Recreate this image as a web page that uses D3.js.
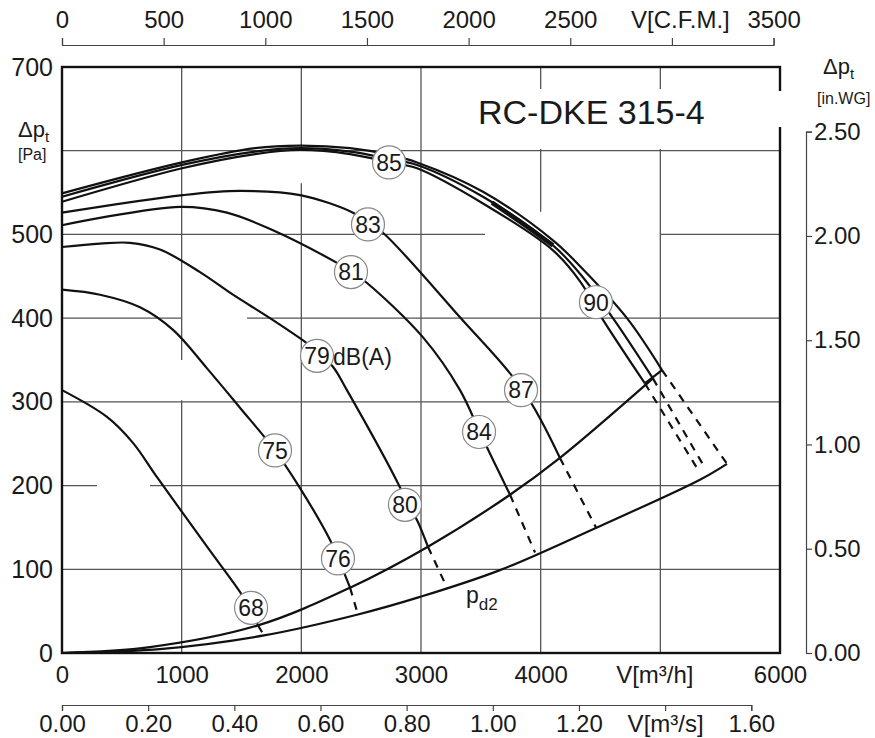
<!DOCTYPE html>
<html>
<head>
<meta charset="utf-8">
<script src="https://cdn.jsdelivr.net/npm/d3@7"></script>
<style>
  body { margin: 0; background: #fff; }
  svg text { font-family: "Liberation Sans", Arial, sans-serif; fill: #1a1a1a; }
</style>
</head>
<body>
<div id="plot"></div>
<script>
// ---- data ----
const flowTicks = [0, 1000, 2000, 3000, 4000, 5000, 6000];      // m3/h
const pressureTicks = [0, 100, 200, 300, 400, 500, 700];       // Pa (600 carries the unit)
const cfmTicks = [0, 500, 1000, 1500, 2000, 2500, 3000, 3500];
const m3sTicks = [0, 0.2, 0.4, 0.6, 0.8, 1.0, 1.2, 1.4, 1.6];
const inwgTicks = [0, 0.5, 1.0, 1.5, 2.0, 2.5];

// grid lines, [value, visible stretches]
const hGrid = [
  [100, [[0, 6000]]],
  [200, [[0, 292], [735, 6000]]],
  [300, [[0, 6000]]],
  [400, [[0, 1003], [1546, 6000]]],
  [500, [[0, 3535], [4997, 6000]]],
  [600, [[0, 6000]]]
];
const vGrid = [
  [1000, [[0, 302], [350, 700]]],
  [2000, [[0, 561], [600, 700]]],
  [3000, [[0, 700]]],
  [4000, [[0, 493], [527, 700]]],
  [5000, [[0, 700]]]
];

// fan curves [m3/h, Pa]
const curveFull1 = [[0, 549], [1003, 586], [1613, 603], [1989, 606], [2407, 603], [2741, 595],
  [2967, 586], [3518, 551], [4103, 493], [4329, 462], [4721, 400], [5014, 338]];
const curveFull2 = [[0, 545], [1003, 583], [1613, 599], [1989, 603], [2407, 599], [2741, 590],
  [2967, 583], [3518, 545], [4103, 487], [4329, 453], [4604, 400], [4938, 328]];
const curveFull3 = [[0, 539], [1003, 579], [1613, 596], [1989, 601], [2407, 596], [2741, 586],
  [2967, 579], [3518, 537], [4103, 481], [4329, 444], [4512, 400], [4871, 322]];
const curve83 = [[0, 526], [1011, 547], [1487, 552], [1989, 547], [2432, 526], [2557, 514],
  [2682, 502], [3326, 401], [3852, 314], [4161, 233]];
const curve81 = [[0, 511], [986, 533], [1379, 526], [1763, 505], [2298, 466], [2423, 455],
  [2549, 442], [3017, 377], [3326, 314], [3510, 258], [3744, 189]];
const curve79 = [[0, 485], [318, 489], [568, 490], [819, 482], [1153, 455], [1429, 428],
  [1738, 400], [2047, 370], [2131, 360], [2264, 342], [2381, 314], [2824, 198], [2883, 179],
  [2966, 159], [3058, 127]];
const curve75 = [[0, 434], [318, 428], [652, 413], [928, 386], [1212, 340], [1487, 293],
  [1763, 245], [1989, 197], [2240, 135], [2323, 108], [2407, 78]];
const curve68 = [[0, 314], [376, 282], [593, 251], [794, 210], [1212, 127],
  [1487, 73], [1571, 54], [1638, 33]];

// system lines
const systemLine = [[0, 0], [735, 7], [1638, 33], [2407, 78], [3058, 127], [3744, 189],
  [4161, 233], [4938, 328]];
const pd2Line = [[0, 0], [840, 5], [1688, 21], [2473, 46], [2992, 67], [3660, 99],
  [4470, 150], [5331, 207], [5557, 226]];

// dashed continuations below the system line
const dashedParts = [
  [[5014, 338], [5557, 226]],
  [[4938, 328], [5373, 221]],
  [[4871, 322], [5315, 219]],
  [[4161, 233], [4462, 150]],
  [[3744, 189], [3953, 120]],
  [[3058, 127], [3217, 78]],
  [[2407, 78], [2473, 46]],
  [[1638, 33], [1688, 21]]
];
const endCap = [[4871, 322], [5014, 338]];
const smudge = [[3593, 538], [3850, 513], [4103, 487]];

// sound level markers dB(A)
const soundLabels = [
  ['85', 2733, 586], ['83', 2557, 512], ['81', 2415, 455], ['79', 2131, 355],
  ['75', 1780, 242], ['76', 2306, 113], ['68', 1580, 54], ['80', 2866, 177],
  ['84', 3485, 264], ['87', 3836, 314], ['90', 4462, 419]
];

// ---- drawing ----
const W = 875, H = 738;
const svg = d3.select('#plot').append('svg')
  .attr('width', W).attr('height', H)
  .style('display', 'block');

const x = d3.scaleLinear().domain([0, 6000]).range([62, 780]);
const y = d3.scaleLinear().domain([0, 700]).range([653, 67]);
const cfmPerM3h = 0.5886;
const paPerInWG = 249.09;
const xCfm = d3.scaleLinear().domain([0, 3500]).range([x(0), x(3500 / cfmPerM3h)]);
const xM3s = d3.scaleLinear().domain([0, 1.6]).range([x(0), x(1.6 * 3600)]);
const yIn = d3.scaleLinear().domain([0, 2.5]).range([y(0), y(2.5 * paPerInWG)]);

// grid
const grid = svg.append('g').attr('stroke', '#555').attr('stroke-width', 1.3);
hGrid.forEach(([v, segs]) => segs.forEach(s => {
  grid.append('line').attr('x1', x(s[0])).attr('x2', x(s[1]))
    .attr('y1', y(v)).attr('y2', y(v));
}));
vGrid.forEach(([v, segs]) => segs.forEach(s => {
  grid.append('line').attr('x1', x(v)).attr('x2', x(v))
    .attr('y1', y(s[0])).attr('y2', y(s[1]));
}));

// white patch behind the title
svg.append('rect').attr('x', 440).attr('y', 89).attr('width', 336).attr('height', 60).attr('fill', '#fff');

// frame
svg.append('rect')
  .attr('x', x(0)).attr('y', y(700))
  .attr('width', x(6000) - x(0)).attr('height', y(0) - y(700))
  .attr('fill', 'none').attr('stroke', '#111').attr('stroke-width', 2.4);
svg.append('rect').attr('x', 776).attr('y', 91).attr('width', 10).attr('height', 36).attr('fill', '#fff');

// curves
const line = d3.line().x(d => x(d[0])).y(d => y(d[1])).curve(d3.curveCatmullRom.alpha(0.5));
const straight = d3.line().x(d => x(d[0])).y(d => y(d[1]));
const curves = svg.append('g').attr('fill', 'none').attr('stroke', '#111')
  .attr('stroke-width', 2.2).attr('stroke-linejoin', 'round');

[curveFull1, curveFull2, curveFull3, curve83, curve81, curve79, curve75, curve68, systemLine, pd2Line]
  .forEach(c => curves.append('path').attr('d', line(c)));

curves.append('path').attr('d', line(smudge)).attr('stroke-width', 4.5);
curves.append('path').attr('d', straight(endCap));

dashedParts.forEach(d => curves.append('path')
  .attr('d', straight(d))
  .attr('stroke-dasharray', '8,7'));

// sound level circles
const marks = svg.append('g').selectAll('g').data(soundLabels).join('g')
  .attr('transform', d => `translate(${x(d[1])},${y(d[2])})`);
marks.append('circle').attr('r', 16.5).attr('fill', '#fff').attr('stroke', '#888').attr('stroke-width', 1.2);
marks.append('text').attr('text-anchor', 'middle').attr('dy', '0.36em')
  .attr('font-size', 23).text(d => d[0]);

svg.append('text').attr('x', x(2265)).attr('y', y(354)).attr('dy', '0.36em')
  .attr('font-size', 23).text('dB(A)');

const pd = svg.append('text').attr('x', x(3376)).attr('y', y(60)).attr('font-size', 23);
pd.append('tspan').text('p');
pd.append('tspan').attr('font-size', 17).attr('dy', 7).text('d2');

// title
svg.append('text').attr('x', 478).attr('y', 124).attr('font-size', 34).text('RC-DKE 315-4');

// axes
const fmt = d3.format('d');

const axTop = svg.append('g').attr('transform', 'translate(0,45)')
  .call(d3.axisTop(xCfm).tickValues(cfmTicks).tickSize(7).tickSizeOuter(7).tickPadding(10)
    .tickFormat(d => d === 3000 ? 'V[C.F.M.]' : fmt(d)));

const axBottom = svg.append('g').attr('transform', `translate(0,${y(0)})`)
  .call(d3.axisBottom(x).tickValues(flowTicks).tickSize(0).tickPadding(13)
    .tickFormat(d => d === 5000 ? 'V[m³/h]' : fmt(d)));
axBottom.select('.domain').remove();

const axM3s = svg.append('g').attr('transform', 'translate(0,705)')
  .call(d3.axisBottom(xM3s).tickValues(m3sTicks).tickSize(6).tickSizeOuter(6).tickPadding(4)
    .tickFormat(d => Math.abs(d - 1.4) < 1e-9 ? 'V[m³/s]' : d3.format('.2f')(d)));

const axLeft = svg.append('g').attr('transform', `translate(${x(0)},0)`)
  .call(d3.axisLeft(y).tickValues(pressureTicks).tickSize(0).tickPadding(9).tickFormat(fmt));
axLeft.select('.domain').remove();

const axRight = svg.append('g').attr('transform', 'translate(806,0)')
  .call(d3.axisRight(yIn).tickValues(inwgTicks).tickSize(6).tickSizeOuter(6).tickPadding(2)
    .tickFormat(d3.format('.2f')));

[axTop, axBottom, axM3s, axLeft, axRight].forEach(a => {
  a.selectAll('text').attr('font-size', 24).attr('fill', '#1a1a1a')
    .style('font-family', '"Liberation Sans", Arial, sans-serif');
  a.selectAll('line, path').attr('stroke', '#444').attr('stroke-width', 1.2);
});
axLeft.selectAll('text').attr('font-size', 25);

// unit labels sit a little off their ticks
axTop.selectAll('.tick text').filter(d => d === 3000).attr('x', 8);
axBottom.selectAll('.tick text').filter(d => d === 5000).attr('x', -6);

// axis titles
const lt = svg.append('text').attr('x', 18).attr('y', 137).attr('font-size', 22);
lt.append('tspan').text('Δp');
lt.append('tspan').attr('font-size', 15).attr('dy', 5).text('t');
svg.append('text').attr('x', 18).attr('y', 160).attr('font-size', 16).text('[Pa]');

const rt = svg.append('text').attr('x', 823).attr('y', 74).attr('font-size', 22);
rt.append('tspan').text('Δp');
rt.append('tspan').attr('font-size', 15).attr('dy', 5).text('t');
svg.append('text').attr('x', 817).attr('y', 104).attr('font-size', 16).text('[in.WG]');
</script>
</body>
</html>
